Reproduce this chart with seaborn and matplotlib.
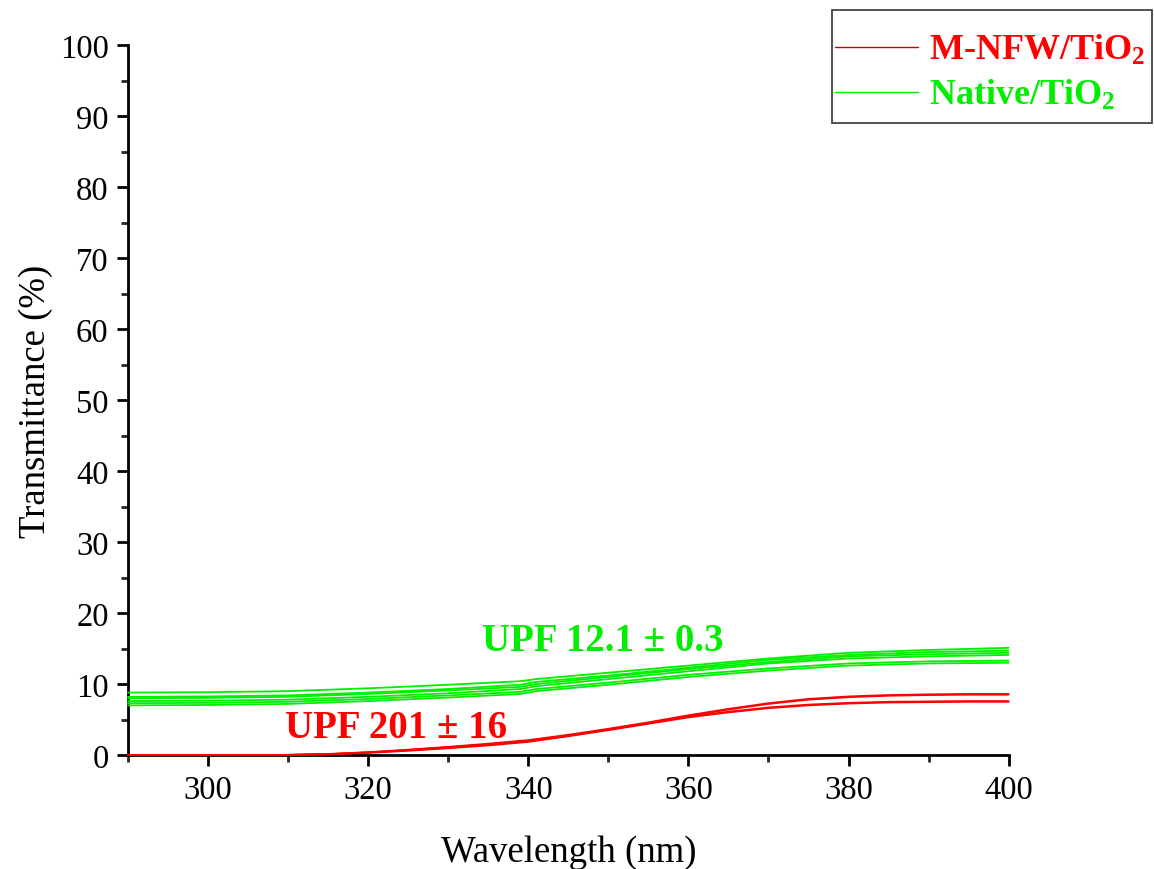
import numpy as np
import pandas as pd
import matplotlib
matplotlib.use("Agg")
import matplotlib.pyplot as plt
from matplotlib.ticker import MultipleLocator
from matplotlib.lines import Line2D
from matplotlib.patches import Rectangle
import seaborn as sns

# ---------------- data ----------------
wl_green = [290, 300, 310, 320, 330, 339, 341, 350, 360, 370, 380, 390, 400]
green_1 = [8.8, 8.85, 9.0, 9.4, 9.9, 10.4, 10.7, 11.6, 12.6, 13.6, 14.4, 14.8, 15.1]
green_2 = [8.2, 8.25, 8.4, 8.8, 9.3, 9.9, 10.3, 11.2, 12.3, 13.4, 14.1, 14.5, 14.7]
green_3 = [8.0, 8.05, 8.2, 8.6, 9.1, 9.6, 10.0, 11.0, 12.1, 13.1, 13.9, 14.2, 14.4]
green_4 = [7.6, 7.65, 7.8, 8.2, 8.7, 9.3, 9.7, 10.7, 11.8, 12.9, 13.6, 13.9, 14.1]
green_5 = [7.3, 7.35, 7.5, 7.9, 8.4, 8.9, 9.3, 10.2, 11.3, 12.2, 12.9, 13.2, 13.3]
green_6 = [7.0, 7.05, 7.2, 7.6, 8.1, 8.6, 9.0, 9.9, 11.0, 11.9, 12.6, 12.9, 13.0]

wl_red = [290, 300, 310, 315, 320, 325, 330, 335, 340, 345, 350, 355, 360,
          365, 370, 375, 380, 385, 390, 395, 400]
red_1 = [0, 0, 0.02, 0.15, 0.4, 0.75, 1.15, 1.6, 2.1, 2.85, 3.7, 4.6, 5.6,
         6.5, 7.3, 7.9, 8.25, 8.45, 8.55, 8.6, 8.6]
red_2 = [0, 0, 0.02, 0.13, 0.38, 0.7, 1.1, 1.5, 2.0, 2.75, 3.6, 4.5, 5.5,
         6.4, 7.2, 7.8, 8.15, 8.35, 8.45, 8.5, 8.5]
red_3 = [0, 0, 0.02, 0.12, 0.35, 0.68, 1.05, 1.45, 1.95, 2.7, 3.6, 4.5, 5.4,
         6.1, 6.7, 7.1, 7.35, 7.5, 7.55, 7.6, 7.6]
red_4 = [0, 0, 0.01, 0.1, 0.3, 0.6, 0.95, 1.35, 1.85, 2.65, 3.5, 4.4, 5.3,
         6.0, 6.6, 7.0, 7.25, 7.4, 7.45, 7.5, 7.5]

labels = ["M-NFW/TiO$_{\\mathbf{2}}$", "Native/TiO$_{\\mathbf{2}}$"]
ann_red = "UPF 201 \u00b1 16"
ann_green = "UPF 12.1 \u00b1 0.3"

# ---------------- build long table ----------------
rows = []
for i, s in enumerate([red_1, red_2, red_3, red_4]):
    for w, v in zip(wl_red, s):
        rows.append(dict(wl=w, T=v, group="red", unit=f"r{i}"))
for i, s in enumerate([green_1, green_2, green_3, green_4, green_5, green_6]):
    for w, v in zip(wl_green, s):
        rows.append(dict(wl=w, T=v, group="green", unit=f"g{i}"))
df = pd.DataFrame(rows)

# ---------------- style ----------------
sns.set_style("ticks")
plt.rcParams["font.family"] = ["Liberation Serif", "DejaVu Serif"]
plt.rcParams["mathtext.fontset"] = "custom"
plt.rcParams["mathtext.rm"] = "Liberation Serif"
plt.rcParams["mathtext.bf"] = "Liberation Serif:bold"
plt.rcParams["mathtext.it"] = "Liberation Serif:italic"
plt.rcParams["text.color"] = "black"
plt.rcParams["axes.labelcolor"] = "black"

fig = plt.figure(figsize=(11.54, 8.70), dpi=100)
ax = fig.add_axes([0.111, 0.131, 0.763, 0.816])

palette = {"red": "#ff0000", "green": "#00ee00"}
sns.lineplot(data=df, x="wl", y="T", hue="group", units="unit", estimator=None,
             palette=palette, linewidth=1.3, legend=False, ax=ax)
for ln in ax.lines:
    ln.set_zorder(3)
    ln.set_clip_on(False)

ax.set_xlim(290, 400)
ax.set_ylim(0, 100)
ax.xaxis.set_major_locator(MultipleLocator(20))
ax.xaxis.set_minor_locator(MultipleLocator(10))
ax.yaxis.set_major_locator(MultipleLocator(10))
ax.yaxis.set_minor_locator(MultipleLocator(5))
ax.set_xticks([300, 320, 340, 360, 380, 400])

sns.despine(ax=ax)
for sp in ("left", "bottom"):
    ax.spines[sp].set_linewidth(2.0)
    ax.spines[sp].set_color("black")
ax.tick_params(which="major", direction="out", length=8, width=2, labelsize=23.5,
               colors="black", pad=6)
ax.tick_params(which="minor", direction="out", length=5, width=2)

ax.set_xlabel("Wavelength (nm)", fontsize=26.5, labelpad=21, color="black")
ax.set_ylabel("Transmittance (%)", fontsize=26.5, labelpad=5, color="black")

ax.text(349.3, 16.2, ann_green, color="#00ee00", fontsize=28, fontweight="bold",
        ha="center", va="center")
ax.text(323.5, 3.9, ann_red, color="#ff0000", fontsize=28, fontweight="bold",
        ha="center", va="center")

# legend frame drawn as a figure rectangle
fig.patches.append(Rectangle((0.721, 0.8575), 0.2773, 0.1299,
                             transform=fig.transFigure, fill=False,
                             edgecolor="#333333", linewidth=1.2, zorder=5))

handles = [Line2D([], [], color="#cc0000", lw=1.0),
           Line2D([], [], color="#00ee00", lw=1.0)]
leg = fig.legend(handles, labels, loc="upper right",
                 bbox_to_anchor=(0.999, 0.969), frameon=False,
                 handlelength=2.3, borderpad=0.2,
                 labelspacing=0.3, handletextpad=0.3, borderaxespad=0.0,
                 prop=dict(family="Liberation Serif", weight="bold", size=26))
for t, c in zip(leg.get_texts(), ["#ff0000", "#00ee00"]):
    t.set_color(c)

fig.savefig("out.png", dpi=100)
